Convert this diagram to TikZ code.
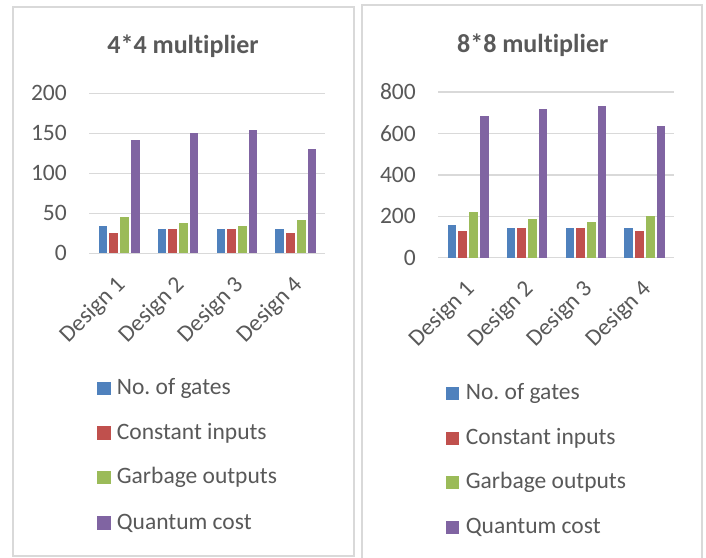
\documentclass[tikz,border=0pt]{standalone}
\usepackage{fontspec}
\setmainfont{Carlito}[Ligatures={NoCommon}]
\frenchspacing
\definecolor{gblue}{HTML}{4F81BD}
\definecolor{gred}{HTML}{C0504D}
\definecolor{ggreen}{HTML}{9BBB59}
\definecolor{gpurple}{HTML}{8064A2}
\definecolor{txt}{HTML}{595959}
\definecolor{grid}{HTML}{D9D9D9}
\definecolor{frame}{HTML}{D9D9D9}
\tikzset{
  panel/.style={draw=frame, line width=2pt, fill=white},
  gridline/.style={draw=grid, line width=1.3pt},
  ticklab/.style={text=txt, font=\fontsize{23.5}{25}\selectfont, anchor=east, inner sep=0pt},
  titlelab/.style={text=txt, font=\fontsize{26}{28}\selectfont\bfseries, inner sep=0pt},
  catlab/.style={text=txt, font=\fontsize{23.5}{25}\selectfont, rotate=45, anchor=north east, inner sep=0pt},
  leglab/.style={text=txt, font=\fontsize{23.5}{25}\selectfont, anchor=west, inner sep=0pt},
  barB/.style={fill=gblue, draw=none},
  barR/.style={fill=gred, draw=none},
  barG/.style={fill=ggreen, draw=none},
  barP/.style={fill=gpurple, draw=none},
}
\begin{document}
\begin{tikzpicture}[x=1pt,y=-1pt]
\useasboundingbox (0,0) rectangle (706,557);
% panels
\draw[panel] (13,7) rectangle (354,556);
\draw[panel] (362,5) rectangle (702,560);
% ---------- left chart ----------
\node[titlelab] (t1) at (183,46) {4*4 multiplier};
\foreach \v/\y in {0/253.3,50/213.3,100/173.3,150/133.3,200/93.3}{
  \draw[gridline] (89,\y) -- (325,\y);
  \node[ticklab] (l\v) at (67,\y) {\v};
}
% bars: value scale 0.8 px per unit, base 253.3
\foreach \i/\a/\b/\c/\d in {0/34/26/45/142,1/30/30/38/150,2/30/30/34/154,3/30/26/42/130}{
  \pgfmathsetmacro{\x}{98.7+58.9*\i}
  \fill[barB] (\x,253.3) rectangle ++(8.7,-0.8*\a);
  \fill[barR] (\x+10.7,253.3) rectangle ++(8.7,-0.8*\b);
  \fill[barG] (\x+21.4,253.3) rectangle ++(8.7,-0.8*\c);
  \fill[barP] (\x+32.1,253.3) rectangle ++(8.7,-0.8*\d);
}
\foreach \i in {1,...,4}{
  \pgfmathsetmacro{\cx}{89+59*(\i-0.5)-4}
  \node[catlab] (c\i) at (\cx,274) {Design \i};
}
\foreach \n/\col/\txt/\y in {1/gblue/No. of gates/388.3,2/gred/Constant inputs/433,3/ggreen/Garbage outputs/477.7,4/gpurple/Quantum cost/523}{
  \fill[\col] (97.3,\y-6.7) rectangle ++(13.4,13.4);
  \node[leglab] (lg\n) at (116.7,\y) {\txt};
}
% ---------- right chart ----------
\node[titlelab] (t2) at (532.7,45) {8*8 multiplier};
\foreach \v/\y in {0/257.7,200/216.3,400/175,600/133.7,800/92}{
  \draw[gridline] (438.3,\y) -- (674,\y);
  \node[ticklab] (r\v) at (416,\y) {\v};
}
\foreach \i/\a/\b/\c/\d in {0/158/129/221/686,1/143/143/187/718,2/143/143/172/733,3/143/129/203/636}{
  \pgfmathsetmacro{\x}{447.7+58.9*\i}
  \fill[barB] (\x,257.7) rectangle ++(8.7,-0.207*\a);
  \fill[barR] (\x+10.7,257.7) rectangle ++(8.7,-0.207*\b);
  \fill[barG] (\x+21.4,257.7) rectangle ++(8.7,-0.207*\c);
  \fill[barP] (\x+32.1,257.7) rectangle ++(8.7,-0.207*\d);
}
\foreach \i in {1,...,4}{
  \pgfmathsetmacro{\cx}{438.3+58.9*(\i-0.5)-4}
  \node[catlab] (d\i) at (\cx,278.4) {Design \i};
}
\foreach \n/\col/\txt/\y in {1/gblue/No. of gates/393.3,2/gred/Constant inputs/438.3,3/ggreen/Garbage outputs/482.7,4/gpurple/Quantum cost/527.7}{
  \fill[\col] (446,\y-6.7) rectangle ++(13.4,13.4);
  \node[leglab] (rg\n) at (465.7,\y) {\txt};
}
\end{tikzpicture}
\end{document}
